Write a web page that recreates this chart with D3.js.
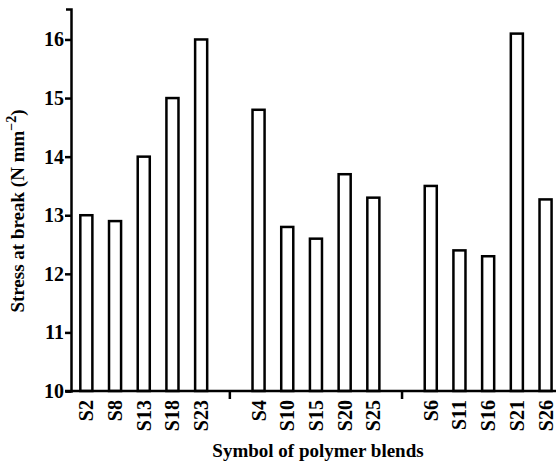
<!DOCTYPE html>
<html lang="en">
<head>
  <meta charset="UTF-8" />
  <title>Stress at break</title>
  <script src="https://d3js.org/d3.v7.min.js"></script>
  <style>
    body {
      margin: 0;
      background: #fff;
    }
    svg {
      display: block;
    }
    text {
      font-family: "Liberation Serif", "Times New Roman", serif;
      font-weight: bold;
      fill: #000;
    }
  </style>
</head>
<body>
  <svg id="chart" width="556" height="466"></svg>

  <script>
    // three groups of blends, separated by an empty slot
    const groups = [
      ["S2", "S8", "S13", "S18", "S23"],
      ["S4", "S10", "S15", "S20", "S25"],
      ["S6", "S11", "S16", "S21", "S26"]
    ];
    const stress = [
      [13.0, 12.9, 14.0, 15.0, 16.0],
      [14.8, 12.8, 12.6, 13.7, 13.3],
      [13.5, 12.4, 12.3, 16.1, 13.27]
    ];
    const yTicks = [10, 11, 12, 13, 14, 15, 16];

    const svg = d3.select("#chart");
    const margin = { top: 9, left: 72, bottom: 391 };

    // slots: blends plus one gap between groups
    const slots = [];
    const bars = [];
    groups.forEach((g, gi) => {
      if (gi > 0) slots.push("gap" + gi);
      g.forEach((name, i) => {
        slots.push(name);
        bars.push({ name: name, value: stress[gi][i] });
      });
    });

    const x = d3.scaleBand()
      .domain(slots)
      .range([margin.left, margin.left + 17 * 28.7])
      .paddingInner(0.58)
      .paddingOuter(0.29);

    const y = d3.scaleLinear()
      .domain([10, 16.52])
      .range([margin.bottom, margin.top]);

    // bars
    svg.selectAll("rect.bar")
      .data(bars)
      .join("rect")
      .attr("class", "bar")
      .attr("x", d => x(d.name))
      .attr("width", x.bandwidth())
      .attr("y", d => y(d.value))
      .attr("height", d => y(10) - y(d.value))
      .attr("fill", "#fff")
      .attr("stroke", "#000")
      .attr("stroke-width", 2.5);

    // y axis
    const yAxis = svg.append("g")
      .attr("transform", `translate(${margin.left - 1},0)`)
      .call(d3.axisLeft(y).tickValues(yTicks).tickFormat(d3.format("d")).tickSize(6).tickSizeOuter(5));
    yAxis.select(".domain").attr("stroke-width", 2.5);
    yAxis.selectAll(".tick line").attr("stroke-width", 2.5);
    yAxis.selectAll(".tick text")
      .attr("x", -7)
      .style("font-size", "20px");

    // x axis: labels for the blends, ticks only in the gaps
    const xAxis = svg.append("g")
      .attr("transform", `translate(0,${margin.bottom})`);
    xAxis.append("line")
      .attr("x1", margin.left - 7)
      .attr("x2", 556)
      .attr("stroke", "#000")
      .attr("stroke-width", 2.5);
    xAxis.selectAll("line.gap")
      .data(slots.filter(s => s.startsWith("gap")))
      .join("line")
      .attr("class", "gap")
      .attr("x1", d => x(d) + x.bandwidth() / 2)
      .attr("x2", d => x(d) + x.bandwidth() / 2)
      .attr("y1", 0)
      .attr("y2", 8)
      .attr("stroke", "#000")
      .attr("stroke-width", 2.5);
    xAxis.selectAll("text.blend")
      .data(bars)
      .join("text")
      .attr("class", "blend")
      .attr("transform", d => `translate(${x(d.name) + x.bandwidth() / 2 + 7},9) rotate(-90)`)
      .attr("text-anchor", "end")
      .style("font-size", "20px")
      .text(d => d.name);

    // axis titles
    svg.append("text")
      .attr("x", 318)
      .attr("y", 457)
      .attr("text-anchor", "middle")
      .style("font-size", "19px")
      .text("Symbol of polymer blends");

    const yTitle = svg.append("text")
      .attr("transform", "translate(24,211) rotate(-90)")
      .attr("text-anchor", "middle")
      .style("font-size", "19px");
    yTitle.append("tspan").text("Stress at break (N mm");
    yTitle.append("tspan").attr("dy", -8).style("font-size", "14px").text("\u22122");
    yTitle.append("tspan").attr("dy", 8).text(")");
  </script>
</body>
</html>
